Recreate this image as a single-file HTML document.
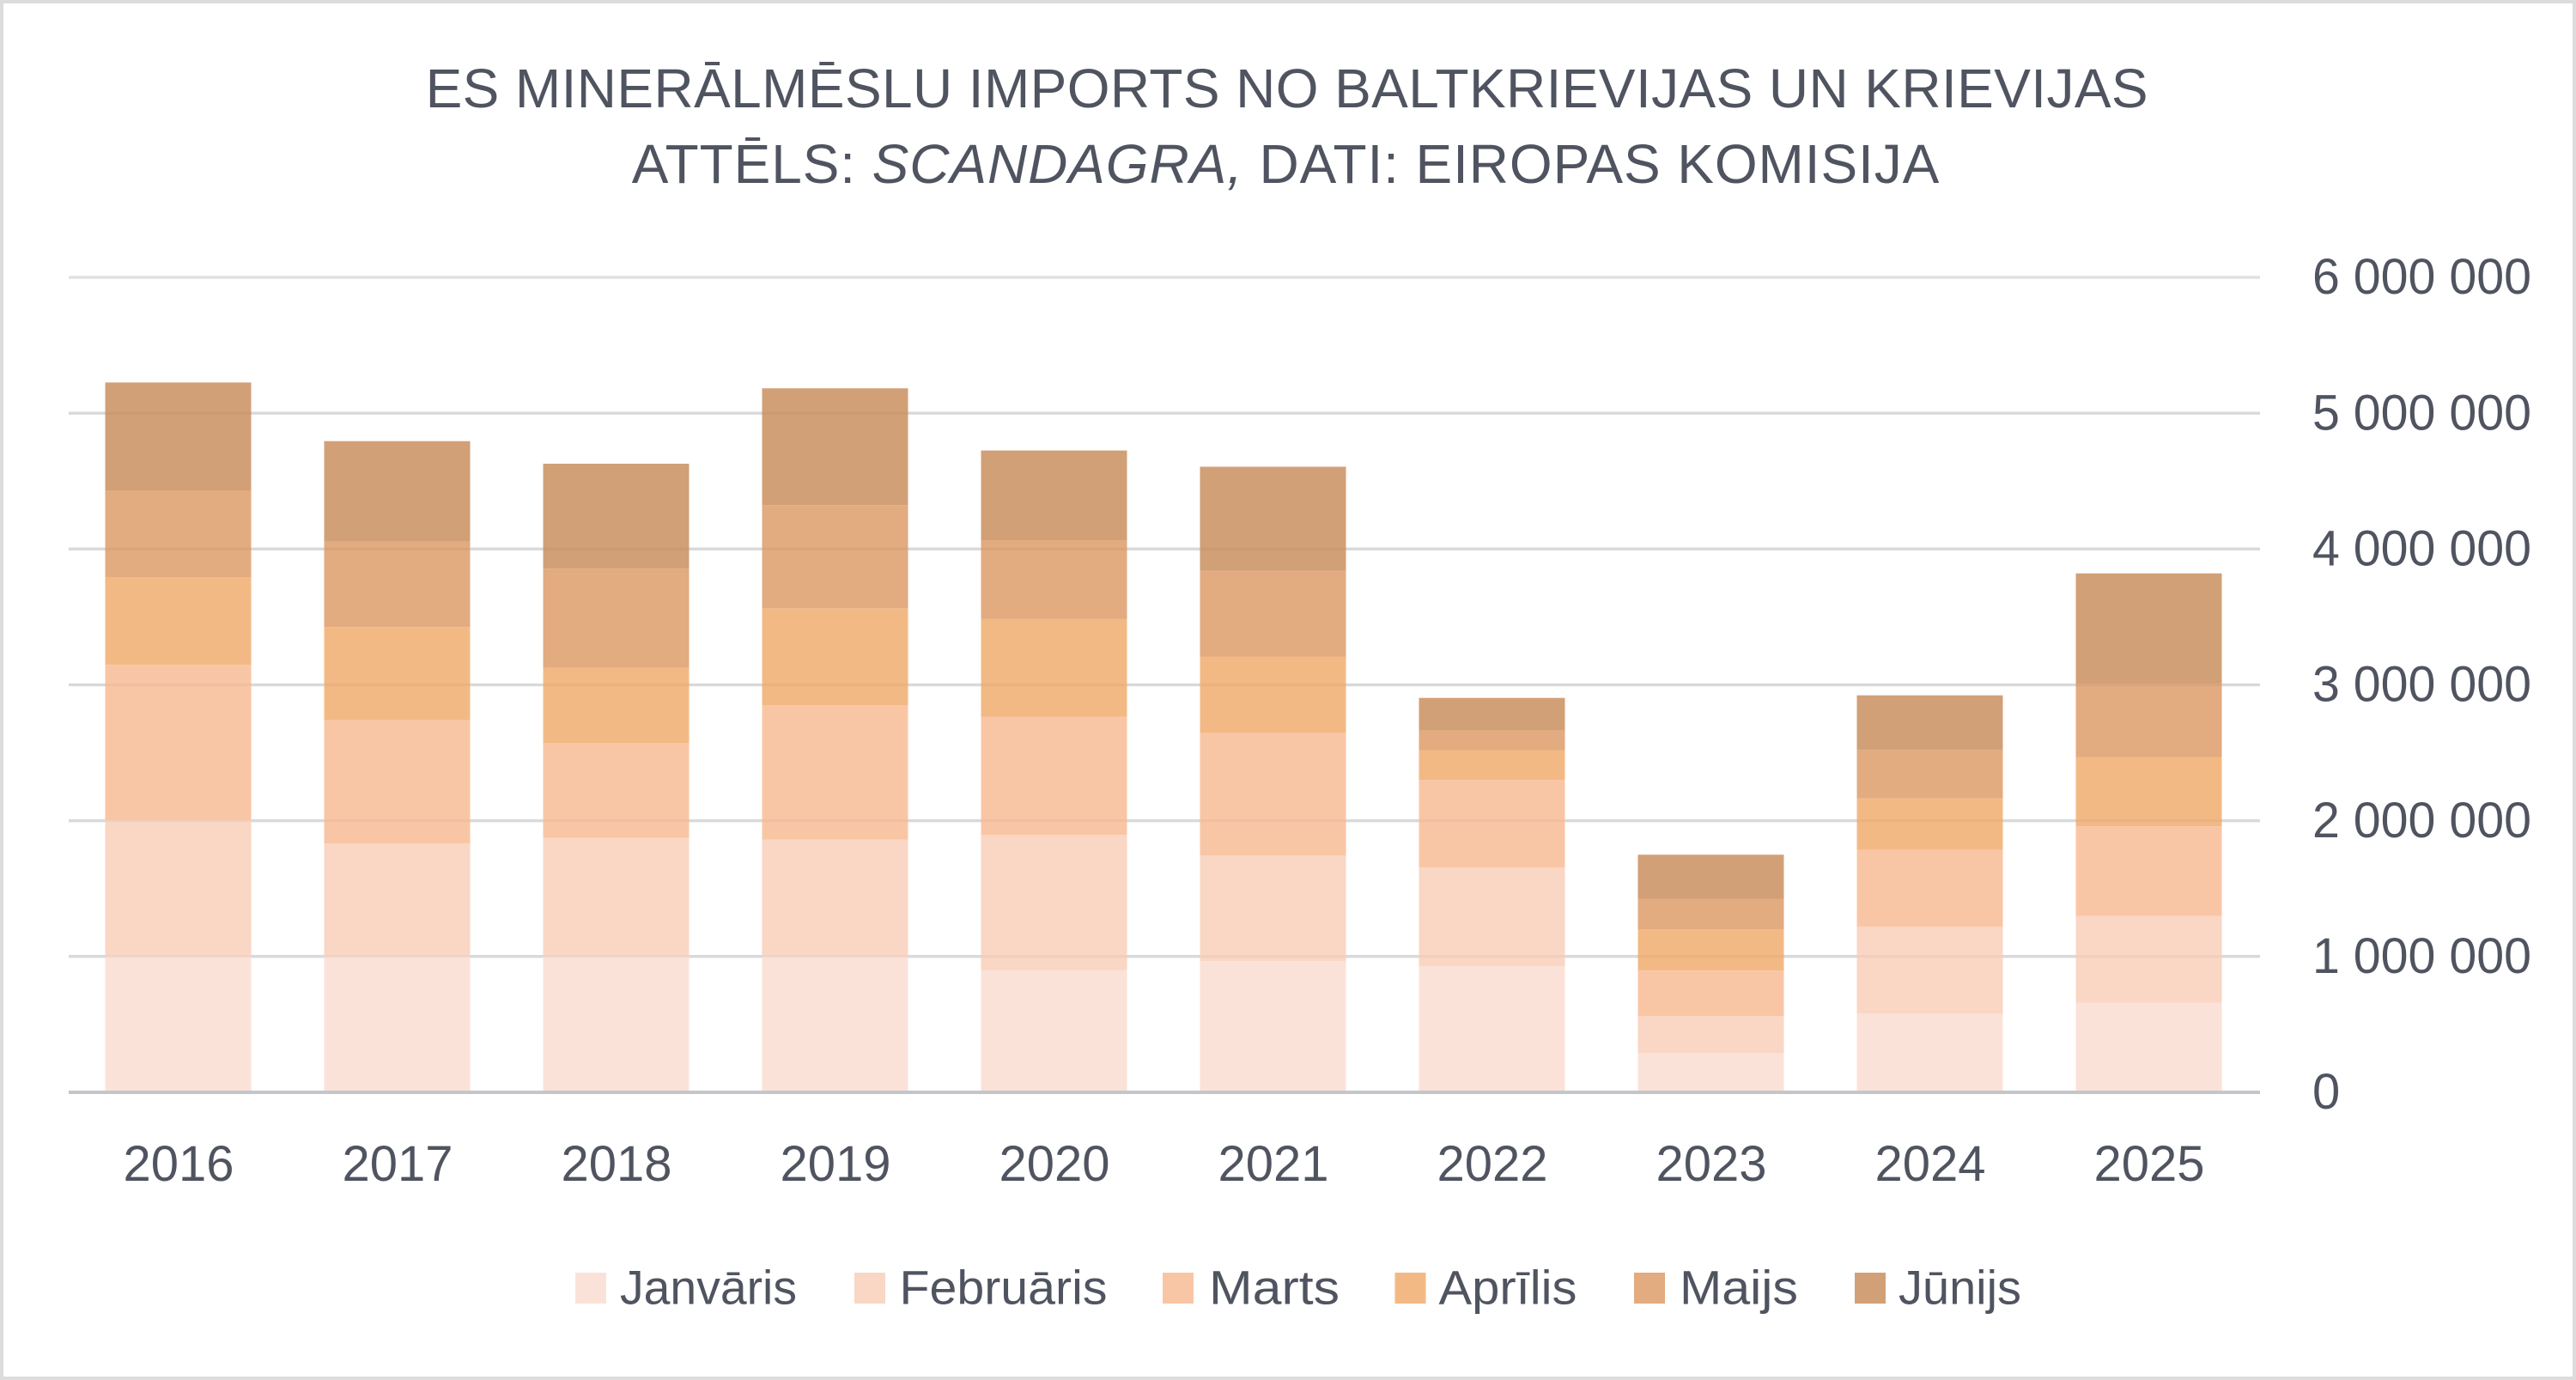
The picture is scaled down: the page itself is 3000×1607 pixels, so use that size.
<!DOCTYPE html>
<html>
<head>
<meta charset="utf-8">
<style>
  html,body{margin:0;padding:0;background:#fff;}
  body{width:3000px;height:1607px;overflow:hidden;}
  svg{display:block;}
  text{font-family:"Liberation Sans", Arial, sans-serif; fill:#4f5460;}
</style>
</head>
<body>
<svg width="3000" height="1607" viewBox="0 0 3000 1607" xmlns="http://www.w3.org/2000/svg">
  <rect x="0" y="0" width="3000" height="1607" fill="#ffffff"/>
  <rect x="2" y="2" width="2996" height="1603" fill="none" stroke="#dcdcdc" stroke-width="4"/>

  <!-- Title -->
  <text x="495.6" y="125" font-size="64" textLength="2006" lengthAdjust="spacing">ES MINERĀLMĒSLU IMPORTS NO BALTKRIEVIJAS UN KRIEVIJAS</text>
  <text x="1497.5" y="213" font-size="64" text-anchor="middle" letter-spacing="0.9">ATTĒLS: <tspan font-style="italic">SCANDAGRA,</tspan> DATI: EIROPAS KOMISIJA</text>

  <!-- Gridlines -->
  <g stroke="#e0e1e4" stroke-width="3.5">
    <line x1="80" y1="323" x2="2632" y2="323"/>
    <line x1="80" y1="481.1" x2="2632" y2="481.1"/>
    <line x1="80" y1="639.3" x2="2632" y2="639.3"/>
    <line x1="80" y1="797.5" x2="2632" y2="797.5"/>
    <line x1="80" y1="955.7" x2="2632" y2="955.7"/>
    <line x1="80" y1="1113.8" x2="2632" y2="1113.8"/>
  </g>

  <!-- Bars -->
  <g id="bars">
    <!-- 2016 -->
    <rect x="122.5" y="1113.6" width="170" height="158.4" fill="#fbe2d8"/>
    <rect x="122.5" y="954.5" width="170" height="159.1" fill="#fad6c4"/>
    <rect x="122.5" y="774.3" width="170" height="180.2" fill="#f9c6a5"/>
    <rect x="122.5" y="672" width="170" height="102.3" fill="#f3b985"/>
    <rect x="122.5" y="571" width="170" height="101" fill="#e2ab80"/>
    <rect x="122.5" y="445.4" width="170" height="125.6" fill="#d2a077"/>
    <!-- 2017 -->
    <rect x="377.5" y="1113.6" width="170" height="158.4" fill="#fbe2d8"/>
    <rect x="377.5" y="982.1" width="170" height="131.5" fill="#fad6c4"/>
    <rect x="377.5" y="838.6" width="170" height="143.5" fill="#f9c6a5"/>
    <rect x="377.5" y="730.1" width="170" height="108.5" fill="#f3b985"/>
    <rect x="377.5" y="630.8" width="170" height="99.3" fill="#e2ab80"/>
    <rect x="377.5" y="513.7" width="170" height="117.1" fill="#d2a077"/>
    <!-- 2018 -->
    <rect x="632.5" y="1113.6" width="170" height="158.4" fill="#fbe2d8"/>
    <rect x="632.5" y="975.8" width="170" height="137.8" fill="#fad6c4"/>
    <rect x="632.5" y="865" width="170" height="110.8" fill="#f9c6a5"/>
    <rect x="632.5" y="777.7" width="170" height="87.3" fill="#f3b985"/>
    <rect x="632.5" y="662.3" width="170" height="115.4" fill="#e2ab80"/>
    <rect x="632.5" y="540" width="170" height="122.3" fill="#d2a077"/>
    <!-- 2019 -->
    <rect x="887.5" y="1113.6" width="170" height="158.4" fill="#fbe2d8"/>
    <rect x="887.5" y="977.5" width="170" height="136.1" fill="#fad6c4"/>
    <rect x="887.5" y="821.4" width="170" height="156.1" fill="#f9c6a5"/>
    <rect x="887.5" y="708.3" width="170" height="113.1" fill="#f3b985"/>
    <rect x="887.5" y="588.3" width="170" height="120" fill="#e2ab80"/>
    <rect x="887.5" y="452.2" width="170" height="136.1" fill="#d2a077"/>
    <!-- 2020 -->
    <rect x="1142.5" y="1129.5" width="170" height="142.5" fill="#fbe2d8"/>
    <rect x="1142.5" y="972.3" width="170" height="157.2" fill="#fad6c4"/>
    <rect x="1142.5" y="834.5" width="170" height="137.8" fill="#f9c6a5"/>
    <rect x="1142.5" y="720.9" width="170" height="113.6" fill="#f3b985"/>
    <rect x="1142.5" y="629" width="170" height="91.9" fill="#e2ab80"/>
    <rect x="1142.5" y="524.6" width="170" height="104.4" fill="#d2a077"/>
    <!-- 2021 -->
    <rect x="1397.5" y="1119.2" width="170" height="152.8" fill="#fbe2d8"/>
    <rect x="1397.5" y="996.4" width="170" height="122.8" fill="#fad6c4"/>
    <rect x="1397.5" y="853.4" width="170" height="143" fill="#f9c6a5"/>
    <rect x="1397.5" y="764.5" width="170" height="88.9" fill="#f3b985"/>
    <rect x="1397.5" y="664.6" width="170" height="99.9" fill="#e2ab80"/>
    <rect x="1397.5" y="543.5" width="170" height="121.1" fill="#d2a077"/>
    <!-- 2022 -->
    <rect x="1652.5" y="1125" width="170" height="147" fill="#fbe2d8"/>
    <rect x="1652.5" y="1010.2" width="170" height="114.8" fill="#fad6c4"/>
    <rect x="1652.5" y="908" width="170" height="102.2" fill="#f9c6a5"/>
    <rect x="1652.5" y="873.5" width="170" height="34.5" fill="#f3b985"/>
    <rect x="1652.5" y="850.6" width="170" height="22.9" fill="#e2ab80"/>
    <rect x="1652.5" y="812.7" width="170" height="37.9" fill="#d2a077"/>
    <!-- 2023 -->
    <rect x="1907.5" y="1226.3" width="170" height="45.7" fill="#fbe2d8"/>
    <rect x="1907.5" y="1183.3" width="170" height="43" fill="#fad6c4"/>
    <rect x="1907.5" y="1130.2" width="170" height="53.1" fill="#f9c6a5"/>
    <rect x="1907.5" y="1082.4" width="170" height="47.8" fill="#f3b985"/>
    <rect x="1907.5" y="1046.5" width="170" height="35.9" fill="#e2ab80"/>
    <rect x="1907.5" y="995.3" width="170" height="51.2" fill="#d2a077"/>
    <!-- 2024 -->
    <rect x="2162.5" y="1180.4" width="170" height="91.6" fill="#fbe2d8"/>
    <rect x="2162.5" y="1079" width="170" height="101.4" fill="#fad6c4"/>
    <rect x="2162.5" y="989.6" width="170" height="89.4" fill="#f9c6a5"/>
    <rect x="2162.5" y="929.8" width="170" height="59.8" fill="#f3b985"/>
    <rect x="2162.5" y="873.3" width="170" height="56.5" fill="#e2ab80"/>
    <rect x="2162.5" y="809.7" width="170" height="63.6" fill="#d2a077"/>
    <!-- 2025 -->
    <rect x="2417.5" y="1167.5" width="170" height="104.5" fill="#fbe2d8"/>
    <rect x="2417.5" y="1066.6" width="170" height="100.9" fill="#fad6c4"/>
    <rect x="2417.5" y="962.3" width="170" height="104.3" fill="#f9c6a5"/>
    <rect x="2417.5" y="881.5" width="170" height="80.8" fill="#f3b985"/>
    <rect x="2417.5" y="796.3" width="170" height="85.2" fill="#e2ab80"/>
    <rect x="2417.5" y="667.7" width="170" height="128.6" fill="#d2a077"/>
  </g>

  <!-- faint gridlines showing through translucent bars -->
  <g stroke="#000" stroke-opacity="0.035" stroke-width="3">
    <line x1="80" y1="481.1" x2="2632" y2="481.1"/>
    <line x1="80" y1="639.3" x2="2632" y2="639.3"/>
    <line x1="80" y1="797.5" x2="2632" y2="797.5"/>
    <line x1="80" y1="955.7" x2="2632" y2="955.7"/>
    <line x1="80" y1="1113.8" x2="2632" y2="1113.8"/>
  </g>

  <!-- Axis line -->
  <line x1="80" y1="1272" x2="2632" y2="1272" stroke="#c3c6cb" stroke-width="4"/>

  <!-- Y axis labels -->
  <g font-size="58">
    <text x="2693" y="342" textLength="255" lengthAdjust="spacingAndGlyphs">6 000 000</text>
    <text x="2693" y="500.5" textLength="255" lengthAdjust="spacingAndGlyphs">5 000 000</text>
    <text x="2693" y="658.5" textLength="255" lengthAdjust="spacingAndGlyphs">4 000 000</text>
    <text x="2693" y="816.5" textLength="255" lengthAdjust="spacingAndGlyphs">3 000 000</text>
    <text x="2693" y="975" textLength="255" lengthAdjust="spacingAndGlyphs">2 000 000</text>
    <text x="2693" y="1133" textLength="255" lengthAdjust="spacingAndGlyphs">1 000 000</text>
    <text x="2693" y="1291">0</text>
  </g>

  <!-- X axis labels -->
  <g font-size="58" text-anchor="middle">
    <text x="208" y="1375">2016</text>
    <text x="463" y="1375">2017</text>
    <text x="718" y="1375">2018</text>
    <text x="973" y="1375">2019</text>
    <text x="1228" y="1375">2020</text>
    <text x="1483" y="1375">2021</text>
    <text x="1738" y="1375">2022</text>
    <text x="1993" y="1375">2023</text>
    <text x="2248" y="1375">2024</text>
    <text x="2503" y="1375">2025</text>
  </g>

  <!-- Legend -->
  <g font-size="56">
    <rect x="670" y="1482" width="36" height="36" fill="#fbe2d8"/>
    <text x="722" y="1518.5" textLength="206" lengthAdjust="spacingAndGlyphs">Janvāris</text>
    <rect x="995" y="1482" width="36" height="36" fill="#fad6c4"/>
    <text x="1047.5" y="1518.5" textLength="242" lengthAdjust="spacingAndGlyphs">Februāris</text>
    <rect x="1354" y="1482" width="36" height="36" fill="#f9c6a5"/>
    <text x="1408" y="1518.5" textLength="152" lengthAdjust="spacingAndGlyphs">Marts</text>
    <rect x="1624.5" y="1482" width="36" height="36" fill="#f3b985"/>
    <text x="1675.5" y="1518.5" textLength="161" lengthAdjust="spacingAndGlyphs">Aprīlis</text>
    <rect x="1903" y="1482" width="36" height="36" fill="#e2ab80"/>
    <text x="1956" y="1518.5" textLength="138" lengthAdjust="spacingAndGlyphs">Maijs</text>
    <rect x="2160" y="1482" width="36" height="36" fill="#d2a077"/>
    <text x="2211" y="1518.5" textLength="143" lengthAdjust="spacingAndGlyphs">Jūnijs</text>
  </g>
</svg>
</body>
</html>
